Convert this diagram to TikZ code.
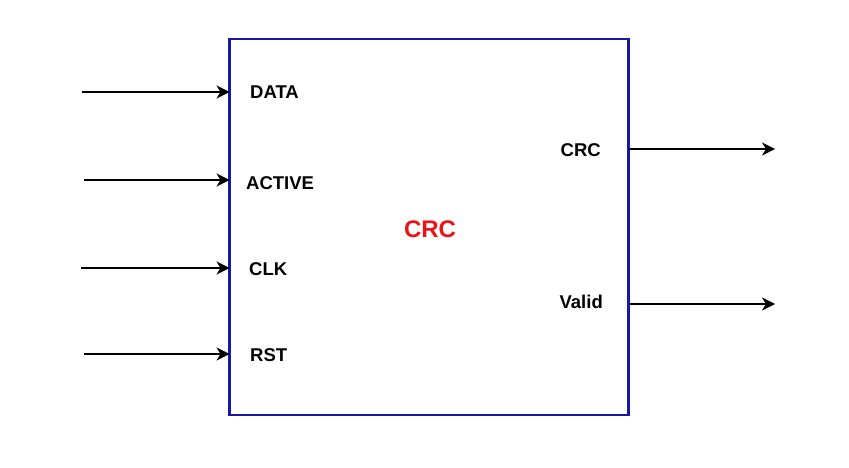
\documentclass[tikz,border=0pt]{standalone}
\usepackage{fontspec}
\setmainfont{Liberation Sans}
\usetikzlibrary{arrows.meta}
\definecolor{boxblue}{RGB}{24,24,168}
\definecolor{crcred}{RGB}{235,20,20}
\tikzset{
  port/.style={font=\bfseries\fontsize{18.5}{20}\selectfont, inner sep=0pt, text=black},
  sig/.style={line width=1.4pt, draw=black, -{Stealth[length=13pt,width=13pt,inset=4pt]}},
}
\begin{document}
\begin{tikzpicture}[x=1pt,y=-1pt]
\useasboundingbox (0,0) rectangle (849,468);
\node[draw=boxblue, line width=2.6pt, outer sep=0pt, minimum width=399pt, minimum height=376pt, inner sep=0pt, anchor=north west] (box) at (229.5,39) {};
\node[font=\bfseries\fontsize{24}{26}\selectfont, text=crcred, inner sep=0pt] (title) at (430,229) {CRC};
% input labels
\node[port, anchor=west] (ldata) at (250,92) {DATA};
\node[port, anchor=west] (lactive) at (246,183) {ACTIVE};
\node[port, anchor=west] (lclk) at (249,269) {CLK};
\node[port, anchor=west] (lrst) at (250,355) {RST};
% output labels
\node[port, anchor=east] (lcrc) at (601,150) {CRC};
\node[port, anchor=east] (lvalid) at (603,302) {Valid};
% connector ends
\coordinate (idata) at (82,92);
\coordinate (iactive) at (84,180);
\coordinate (iclk) at (81,268);
\coordinate (irst) at (84,354);
\coordinate (ocrc) at (775,149);
\coordinate (ovalid) at (775,304);
\draw[sig] (idata) -- (idata -| box.west);
\draw[sig] (iactive) -- (iactive -| box.west);
\draw[sig] (iclk) -- (iclk -| box.west);
\draw[sig] (irst) -- (irst -| box.west);
\draw[sig] (ocrc -| box.east) -- (ocrc);
\draw[sig] (ovalid -| box.east) -- (ovalid);
\end{tikzpicture}
\end{document}
